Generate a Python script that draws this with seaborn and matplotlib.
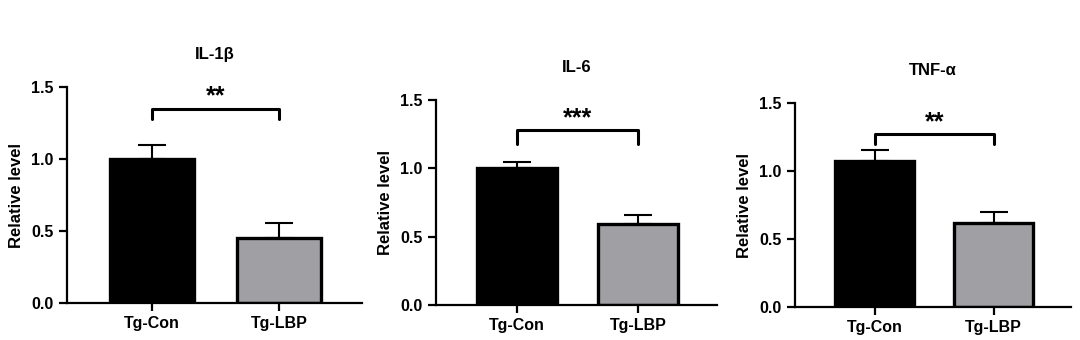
import seaborn as sns
import pandas as pd
import numpy as np
import matplotlib.pyplot as plt

# values
groups = ["Tg-Con", "Tg-LBP"]
titles = ["IL-1β", "IL-6", "TNF-α"]
il1b_mean = [1.00, 0.45]
il1b_err = [0.10, 0.105]
il6_mean = [1.00, 0.59]
il6_err = [0.045, 0.065]
tnfa_mean = [1.07, 0.62]
tnfa_err = [0.085, 0.08]
stars = ["**", "***", "**"]
bracket_y = [1.35, 1.28, 1.27]
bracket_drop = [0.07, 0.10, 0.07]

means = [il1b_mean, il6_mean, tnfa_mean]
errs = [il1b_err, il6_err, tnfa_err]

sns.set_style("ticks", {"axes.edgecolor": "black", "text.color": "black",
                        "xtick.color": "black", "ytick.color": "black",
                        "axes.labelcolor": "black"})
plt.rcParams['font.family'] = ['Liberation Sans', 'DejaVu Sans']
plt.rcParams['font.weight'] = 'bold'

fig = plt.figure(figsize=(10.8, 3.4), dpi=100)
W, H = 1080, 340
# axes boxes in pixels: left, bottom (value 0), width, height
boxes = [(67, 303, 295, 216), (436, 305, 281, 205), (795, 307, 276, 204)]

for i in range(3):
    l, b, w, h = boxes[i]
    ax = fig.add_axes([l / W, 1 - b / H, w / W, h / H])
    df = pd.DataFrame({"group": groups, "value": means[i]})
    sns.barplot(df, x="group", y="value", hue="group",
                palette=["#000000", "#a0a0a4"], width=0.66,
                edgecolor="black", linewidth=2.4, legend=False, ax=ax)
    x = np.arange(len(groups))
    ax.errorbar(x, means[i], yerr=[np.zeros(len(groups)), errs[i]],
                fmt="none", ecolor="black", elinewidth=1.5, capsize=10,
                capthick=1.5, zorder=1)
    # significance bracket
    y0 = bracket_y[i]
    ax.plot([0, 0, 1, 1], [y0 - bracket_drop[i], y0, y0, y0 - bracket_drop[i]],
            color="black", lw=2.2, clip_on=False)
    ax.text(0.5, y0 + 0.0, stars[i], ha="center", va="bottom",
            fontsize=18, fontweight="bold")
    ax.set_xlim(-0.67, 1.65)
    ax.set_ylim(0, 1.5)
    ax.set_yticks([0, 0.5, 1.0, 1.5])
    ax.set_yticklabels(["0.0", "0.5", "1.0", "1.5"])
    ax.set_xlabel("")
    ax.set_ylabel("Relative level", fontsize=12, fontweight="bold", labelpad=5)
    ax.set_title(titles[i], fontsize=12, fontweight="bold", pad=20)
    ax.tick_params(axis="both", width=1.6, length=6, labelsize=11.5)
    for lab in ax.get_xticklabels() + ax.get_yticklabels():
        lab.set_fontweight("bold")
    for s in ["left", "bottom"]:
        ax.spines[s].set_linewidth(1.6)
    sns.despine(ax=ax)

plt.savefig("out.png", dpi=100)
